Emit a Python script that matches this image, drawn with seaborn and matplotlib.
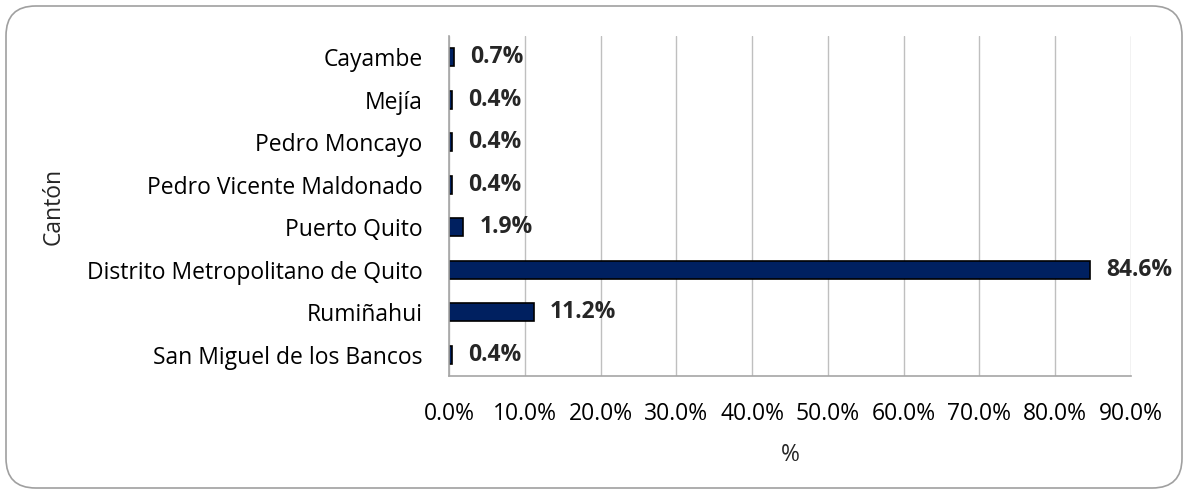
import matplotlib
matplotlib.use("Agg")
import matplotlib.pyplot as plt
import seaborn as sns
import pandas as pd
from matplotlib.patches import FancyBboxPatch
from matplotlib.ticker import FuncFormatter

sns.set_theme(style="white")
plt.rcParams['font.family'] = ['Open Sans', 'DejaVu Sans']

# data
cantones = ["Cayambe", "Mejía", "Pedro Moncayo", "Pedro Vicente Maldonado",
            "Puerto Quito", "Distrito Metropolitano de Quito", "Rumiñahui",
            "San Miguel de los Bancos"]
porcentaje = [0.7, 0.4, 0.4, 0.4, 1.9, 84.6, 11.2, 0.4]

df = pd.DataFrame({"canton": cantones, "pct": porcentaje})
fs = 16.5

fig = plt.figure(figsize=(11.88, 4.94), dpi=100)
ax = fig.add_axes([449 / 1188, 1 - 376 / 494, (1131 - 449) / 1188, (376 - 36) / 494])

sns.barplot(data=df, y="canton", x="pct", orient="h", color="#002060",
            edgecolor="black", linewidth=1.2, width=0.43, saturation=1, ax=ax)

for i, v in enumerate(porcentaje):
    ax.annotate(f"{v:.1f}%", (v, i), xytext=(11.5, 0), textcoords="offset points",
                ha="left", va="center", fontsize=fs, fontweight="bold")

ax.set_xlim(0, 90)
ax.set_xticks(range(0, 91, 10))
ax.xaxis.set_major_formatter(FuncFormatter(lambda x, p: f"{x:.1f}%"))
ax.grid(axis="x", color="#bfbfbf", linewidth=1)
ax.set_axisbelow(True)
for s in ["top", "right"]:
    ax.spines[s].set_visible(False)
for s in ["left", "bottom"]:
    ax.spines[s].set_color("#a6a6a6")
    ax.spines[s].set_linewidth(1.2)
ax.tick_params(axis="both", length=0, labelsize=fs, colors="black")
ax.tick_params(axis="x", pad=19)
ax.tick_params(axis="y", pad=19)
ax.set_xlabel("%", fontsize=fs, labelpad=12)
ax.set_ylabel("Cantón", fontsize=fs)
ax.yaxis.set_label_coords(-(449 - 66) / (1131 - 449), 0.5)

# rounded chart frame
frame = FancyBboxPatch((6 / 1188, 6 / 494), 1176 / 1188, 482 / 494,
                       boxstyle="round,pad=0,rounding_size=0.025",
                       transform=fig.transFigure, fill=False,
                       edgecolor="#a0a0a0", linewidth=1.2, mutation_aspect=1188 / 494)
fig.patches.append(frame)

fig.savefig("out.png", dpi=100)
